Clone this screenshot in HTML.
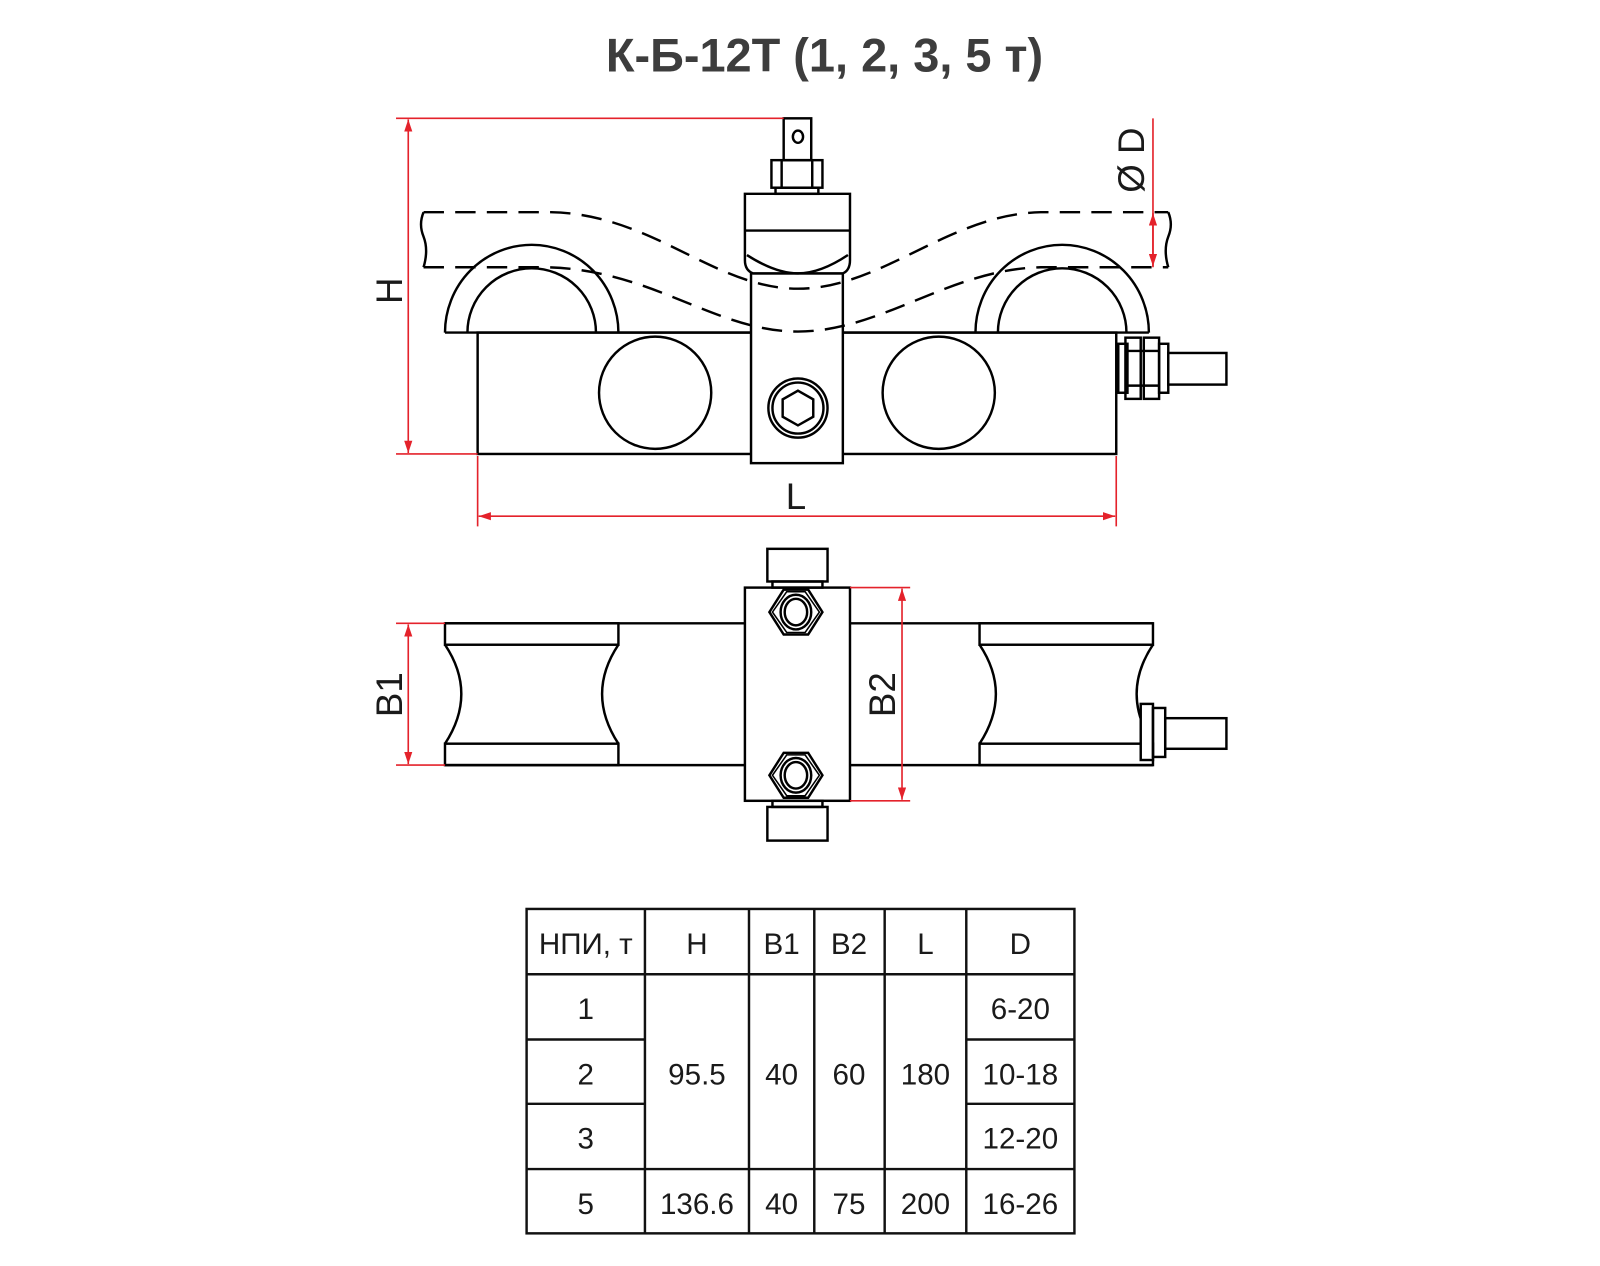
<!DOCTYPE html>
<html><head><meta charset="utf-8"><style>
html,body{margin:0;padding:0;background:#fff}
svg{display:block}
text{font-family:"Liberation Sans",sans-serif}
.t{font-family:"Liberation Sans Narrow","Liberation Sans",sans-serif;font-size:29px;fill:#1a1a1a;text-anchor:middle}
</style></head><body>
<svg width="1600" height="1266" viewBox="0 0 1568 1241" xmlns="http://www.w3.org/2000/svg">
<defs>
<marker id="a" viewBox="0 0 12 8" refX="12" refY="4" markerWidth="12" markerHeight="8" markerUnits="userSpaceOnUse" orient="auto-start-reverse"><path d="M0,0 L12,4 L0,8 z" fill="#e4222b"/></marker>
</defs>
<text x="808" y="70" font-size="46" font-weight="bold" fill="#3d3d3d" text-anchor="middle">К-Б-12Т (1, 2, 3, 5 т)</text>

<g fill="none" stroke="#000" stroke-width="2.4">
<rect x="468" y="326" width="626" height="119" fill="#fff"/>
<line x1="436" y1="326" x2="1126" y2="326"/>
<path d="M436,326 A85,86 0 0 1 606,326 M458,326 A63,63 0 0 1 584,326"/>
<path d="M956,326 A85,86 0 0 1 1126,326 M978,326 A63,63 0 0 1 1104,326"/>
<circle cx="642" cy="385" r="55"/>
<circle cx="920" cy="385" r="55"/>
<rect x="736" y="268" width="90" height="186" fill="#fff"/>
<circle cx="782" cy="400" r="29"/>
<circle cx="782" cy="400" r="25"/>
<path d="M782,383 L797,391.5 L797,408.5 L782,417 L767,408.5 L767,391.5 z"/>
<path d="M730,190 H833 V255 Q833,265 826,268 H738 Q730,265 730,255 z" fill="#fff"/>
<line x1="730" y1="226" x2="833" y2="226"/>
<path d="M732,250 Q760,268 782,268 Q804,268 831,250"/>
<rect x="760" y="184" width="42" height="6"/>
<rect x="756" y="157" width="50" height="27"/>
<line x1="766" y1="157" x2="766" y2="184"/><line x1="796" y1="157" x2="796" y2="184"/>
<rect x="768" y="116" width="27" height="41"/>
<ellipse cx="782" cy="134" rx="5" ry="6"/>
<rect x="1096" y="337" width="9" height="48"/>
<rect x="1103" y="331" width="15" height="60"/>
<rect x="1121" y="331" width="15" height="60"/>
<rect x="1136" y="337" width="9" height="48"/>
<line x1="1103" y1="344" x2="1136" y2="344"/><line x1="1103" y1="378" x2="1136" y2="378"/>
<rect x="1145" y="346" width="57" height="31"/>
<g stroke-dasharray="20,11">
<path d="M415,208 L540,208 C640,210 700,283 782,283 C864,283 930,210 1020,208 L1145,208"/>
<path d="M415,262 L535,262 C640,264 700,325 782,325 C864,325 930,264 1020,262 L1145,262"/>
</g>
<path d="M415,208 Q410,220 415,232 Q420,245 415,262"/>
<path d="M1145,208 Q1150,220 1145,232 Q1140,245 1145,262"/>

<line x1="436" y1="611" x2="1130" y2="611"/>
<line x1="436" y1="750" x2="1130" y2="750"/>
<rect x="436" y="611" width="170" height="21"/><rect x="436" y="729" width="170" height="21"/>
<path d="M436,632 Q468,680 436,729 M606,632 Q574,680 606,729"/>
<rect x="960" y="611" width="170" height="21"/><rect x="960" y="729" width="170" height="21"/>
<path d="M960,632 Q992,680 960,729 M1130,632 Q1098,680 1130,729"/>
<rect x="1118" y="690" width="12" height="55" fill="#fff"/>
<rect x="1130" y="694" width="12" height="48"/>
<rect x="1142" y="704" width="60" height="30"/>
<rect x="730" y="576" width="103" height="209" fill="#fff"/>
<rect x="752" y="538" width="59" height="32"/><rect x="757" y="570" width="49" height="6"/>
<rect x="752" y="791" width="59" height="33"/><rect x="757" y="785" width="49" height="6"/>
<path d="M768,578 H792 L806,600 L792,622 H768 L754,600 z"/>
<path d="M771,580 H789 L803,600 L789,620 H771 L757,600 z" stroke-width="1.5"/>
<ellipse cx="780" cy="600" rx="15" ry="17"/><ellipse cx="780" cy="600" rx="11" ry="13"/>
<path d="M768,738 H792 L806,760 L792,782 H768 L754,760 z"/>
<path d="M771,740 H789 L803,760 L789,780 H771 L757,760 z" stroke-width="1.5"/>
<ellipse cx="780" cy="760" rx="15" ry="17"/><ellipse cx="780" cy="760" rx="11" ry="13"/>
</g>

<g stroke="#e4222b" stroke-width="1.6" fill="none">
<line x1="388" y1="116" x2="768" y2="116"/>
<line x1="388" y1="445" x2="468" y2="445"/>
<line x1="400" y1="117" x2="400" y2="444" marker-start="url(#a)" marker-end="url(#a)"/>
<line x1="468" y1="447" x2="468" y2="516"/>
<line x1="1094" y1="447" x2="1094" y2="516"/>
<line x1="469" y1="506" x2="1093" y2="506" marker-start="url(#a)" marker-end="url(#a)"/>
<line x1="1130" y1="116" x2="1130" y2="262"/>
<line x1="1130" y1="209" x2="1130" y2="261" marker-start="url(#a)" marker-end="url(#a)"/>
<line x1="388" y1="611" x2="436" y2="611"/>
<line x1="388" y1="750" x2="436" y2="750"/>
<line x1="400" y1="612" x2="400" y2="749" marker-start="url(#a)" marker-end="url(#a)"/>
<line x1="833" y1="576" x2="892" y2="576"/>
<line x1="833" y1="785" x2="892" y2="785"/>
<line x1="884" y1="577" x2="884" y2="784" marker-start="url(#a)" marker-end="url(#a)"/>
</g>
<g font-size="36" fill="#1a1a1a">
<text transform="translate(394,285) rotate(-90)" text-anchor="middle">H</text>
<text x="780" y="499" text-anchor="middle">L</text>
<text transform="translate(1121,157) rotate(-90)" text-anchor="middle">Ø D</text>
<text transform="translate(394,681) rotate(-90)" text-anchor="middle">B1</text>
<text transform="translate(877,681) rotate(-90)" text-anchor="middle">B2</text>
</g>

<g stroke="#111" stroke-width="2.4" fill="none">
<rect x="516" y="891" width="537" height="318"/>
<line x1="632" y1="891" x2="632" y2="1209"/>
<line x1="734" y1="891" x2="734" y2="1209"/>
<line x1="798" y1="891" x2="798" y2="1209"/>
<line x1="867" y1="891" x2="867" y2="1209"/>
<line x1="947" y1="891" x2="947" y2="1209"/>
<line x1="516" y1="955" x2="1053" y2="955"/>
<line x1="516" y1="1019" x2="632" y2="1019"/><line x1="947" y1="1019" x2="1053" y2="1019"/>
<line x1="516" y1="1082" x2="632" y2="1082"/><line x1="947" y1="1082" x2="1053" y2="1082"/>
<line x1="516" y1="1146" x2="1053" y2="1146"/>
</g>
<g>
<text class="t" x="574" y="935">НПИ, т</text>
<text class="t" x="683" y="935">H</text>
<text class="t" x="766" y="935">B1</text>
<text class="t" x="832" y="935">B2</text>
<text class="t" x="907" y="935">L</text>
<text class="t" x="1000" y="935">D</text>
<text class="t" x="574" y="999">1</text>
<text class="t" x="574" y="1063">2</text>
<text class="t" x="574" y="1126">3</text>
<text class="t" x="574" y="1190">5</text>
<text class="t" x="683" y="1063">95.5</text>
<text class="t" x="766" y="1063">40</text>
<text class="t" x="832" y="1063">60</text>
<text class="t" x="907" y="1063">180</text>
<text class="t" x="1000" y="999">6-20</text>
<text class="t" x="1000" y="1063">10-18</text>
<text class="t" x="1000" y="1126">12-20</text>
<text class="t" x="683" y="1190">136.6</text>
<text class="t" x="766" y="1190">40</text>
<text class="t" x="832" y="1190">75</text>
<text class="t" x="907" y="1190">200</text>
<text class="t" x="1000" y="1190">16-26</text>
</g>
</svg>
</body></html>
